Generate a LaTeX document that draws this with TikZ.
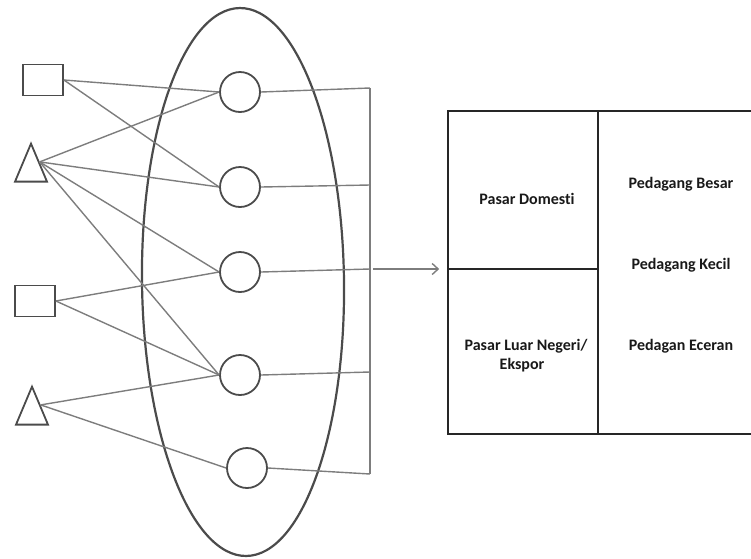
\documentclass[tikz,border=0pt]{standalone}
\usepackage{fontspec}
\setsansfont{Carlito}[Ligatures=NoCommon]
\usetikzlibrary{arrows.meta,shapes.geometric,positioning}
\definecolor{linkgray}{RGB}{125,125,125}
\definecolor{shapegray}{RGB}{75,75,75}
\colorlet{boxline}{black!85}

\begin{document}
\begin{tikzpicture}[x=1pt, y=-1pt,
  link/.style={draw=linkgray, line width=1.4pt},
  supplier/.style={draw=shapegray, line width=1.8pt, rectangle, minimum width=40pt, minimum height=31pt, inner sep=0pt},
  grower/.style={draw=shapegray, line width=1.8pt, isosceles triangle, shape border rotate=90, isosceles triangle stretches, minimum width=32pt, minimum height=38pt, inner sep=0pt},
  actor/.style={draw=shapegray, line width=1.8pt, circle, minimum size=40pt, inner sep=0pt},
  cell/.style={draw=boxline, line width=1.6pt, rectangle, inner sep=0pt},
  label/.style={font=\sffamily\bfseries\fontsize{16}{19}\selectfont, text=black!90, align=center}]
  \clip (0,0) rectangle (751,558);
  % producers on the left
  \node[supplier] (sq1) at (43,80) {};
  \node[grower] (tr1) at (31,171) {};
  \node[supplier] (sq2) at (35,301) {};
  \node[grower] (tr2) at (32,414) {};
  % actors inside the ring
  \foreach \n/\x/\y in {1/240/92, 2/240/187, 3/240/272, 4/240/375, 5/247/468}
    \node[actor] (c\n) at (\x,\y) {};
  \draw[draw=shapegray, line width=2.2pt, rotate around={0.7:(243,282)}] (243,282) ellipse [x radius=101, y radius=274];
  % producer links
  \foreach \a/\b in {sq1.east/c1, sq1.east/c2, tr1.right side/c1, tr1.right side/c2, tr1.right side/c3, tr1.right side/c4, sq2.east/c3, sq2.east/c4, tr2.right side/c4, tr2.right side/c5}
    \draw[link] (\a) -- (\b.west);
  % collector line
  \foreach \n/\y in {1/88, 2/185, 3/269, 4/372, 5/474}
    \coordinate (s\n) at (370,\y);
  \foreach \n in {1,...,5}
    \draw[link] (c\n.east) -- (s\n);
  \draw[link] (s1) -- (s5);
  % market table
  \node[cell, minimum width=150pt, minimum height=158pt] (dom) at (523,190) {};
  \node[cell, minimum width=150pt, minimum height=165pt] (exp) at (523,351.5) {};
  \node[cell, minimum width=220pt, minimum height=323pt] (trd) at (708,272.5) {};
  \draw[link, -{Straight Barb[length=6pt, width=11pt]}, shorten <=3pt, shorten >=8pt] (s3) -- (s3 -| dom.west);
  \node[label] at (527,199) {Pasar Domesti};
  \node[label] at (526,356) {Pasar Luar Negeri/\\\hspace*{-8pt}Ekspor};
  \node[label] at (681,184) {Pedagang Besar};
  \node[label] at (681,265) {Pedagang Kecil};
  \node[label] at (681,346) {Pedagan Eceran};
\end{tikzpicture}
\end{document}
